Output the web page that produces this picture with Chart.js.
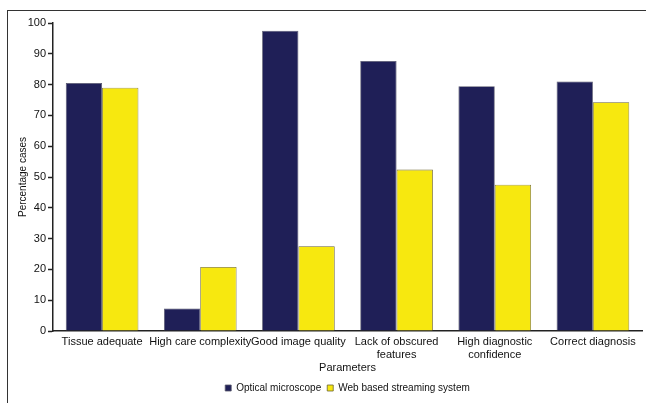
<!DOCTYPE html>
<html>
<head>
<meta charset="utf-8">
<script src="https://cdn.jsdelivr.net/npm/chart.js@4/dist/chart.umd.min.js"></script>
<style>
  html, body { margin: 0; padding: 0; background: #fff; }
  .wrap { position: relative; width: 646px; height: 403px; }
  .frame { position: absolute; left: 7px; top: 10px; right: 0; bottom: 0;
           border-left: 1.5px solid #333; border-top: 1.5px solid #333; }
  canvas { position: absolute; left: 0; top: 0; }
</style>
</head>
<body>
<div class="wrap">
  <div class="frame"></div>
  <canvas id="barChart" width="646" height="403"></canvas>
</div>
<script>
// Data
const categories = [
  'Tissue adequate',
  'High care complexity',
  'Good image quality',
  ['Lack of obscured', 'features'],
  ['High diagnostic', 'confidence'],
  'Correct diagnosis'
];
const opticalMicroscope = [80.5, 7.3, 97.5, 87.7, 79.5, 81.0];
const webStreaming = [79.0, 20.8, 27.5, 52.4, 47.5, 74.3];
const yTicks = [0, 10, 20, 30, 40, 50, 60, 70, 80, 90, 100];

const font = { family: '"Liberation Sans", Arial, sans-serif', size: 11 };

const ctx = document.getElementById('barChart');
new Chart(ctx, {
  type: 'bar',
  data: {
    labels: categories,
    datasets: [
      {
        label: 'Optical microscope',
        data: opticalMicroscope,
        backgroundColor: '#1f1f57',
        borderColor: '#55556a',
        borderWidth: 0.8
      },
      {
        label: 'Web based streaming system',
        data: webStreaming,
        backgroundColor: '#f7e80f',
        borderColor: '#6b6330',
        borderWidth: 0.8
      }
    ]
  },
  options: {
    responsive: false,
    animation: false,
    layout: { padding: { top: 23, right: 4, left: 13, bottom: 0 } },
    datasets: { bar: { categoryPercentage: 0.74, barPercentage: 1.0 } },
    plugins: {
      tooltip: { enabled: false },
      legend: {
        position: 'bottom',
        fullSize: false,
        labels: {
          color: '#111',
          font: { family: font.family, size: 10 },
          usePointStyle: true,
          pointStyle: 'rect',
          boxWidth: 6,
          boxHeight: 6,
          padding: 6
        }
      }
    },
    scales: {
      x: {
        grid: { display: false, drawTicks: false },
        border: { color: '#222', width: 1.5 },
        ticks: { color: '#111', font: font, maxRotation: 0, autoSkip: false, padding: 4 },
        title: { display: true, text: 'Parameters', color: '#111', font: font, padding: { top: 0, bottom: 2 } },
        afterFit: function(axis) { axis.height = 46; }
      },
      y: {
        min: 0,
        max: 100,
        afterBuildTicks: function(axis) { axis.ticks = yTicks.map(v => ({ value: v })); },
        grid: { display: true, drawOnChartArea: false, drawTicks: true, tickLength: 5, tickColor: '#222', tickWidth: 1.5 },
        border: { color: '#222', width: 1.5 },
        ticks: { color: '#111', font: font, padding: 2 },
        title: { display: true, text: 'Percentage cases', color: '#111', font: { family: font.family, size: 10 } },
        afterFit: function(axis) { axis.width = 40; }
      }
    }
  }
});
</script>
</body>
</html>
